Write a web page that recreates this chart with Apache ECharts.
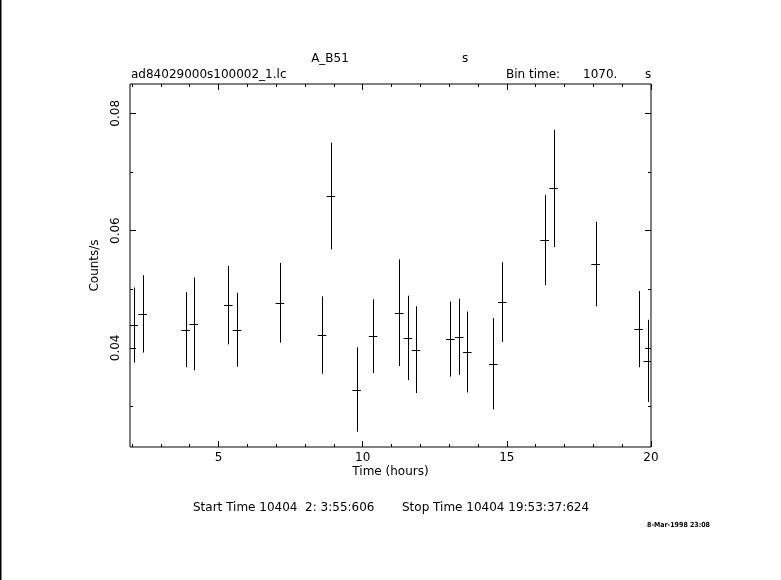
<!DOCTYPE html>
<html>
<head>
<meta charset="utf-8">
<script src="https://cdn.jsdelivr.net/npm/echarts@6/dist/echarts.min.js"></script>
<style>
html,body{margin:0;padding:0;background:#fff;}
#chart{width:781px;height:580px;}
</style>
</head>
<body>
<div id="chart"></div>
<script>
// ---- data ----
const binTime = 1070; // seconds
const times = [2.06, 2.37, 3.86, 4.14, 5.34, 5.64, 7.13, 8.59, 8.90, 9.79, 10.36, 11.27, 11.57, 11.85, 13.04, 13.35, 13.63, 14.53, 14.84, 16.31, 16.62, 18.08, 19.57, 19.89];
const rates = [0.0439, 0.0458, 0.0431, 0.0441, 0.0473, 0.0431, 0.0477, 0.0422, 0.0659, 0.0329, 0.0420, 0.0460, 0.0417, 0.0397, 0.0415, 0.0419, 0.0393, 0.0373, 0.0478, 0.0584, 0.0672, 0.0543, 0.0432, 0.0378];
const errors = [0.0064, 0.0066, 0.0064, 0.0079, 0.0067, 0.0063, 0.0068, 0.0066, 0.0091, 0.0072, 0.0063, 0.0091, 0.0072, 0.0074, 0.0064, 0.0065, 0.0069, 0.0078, 0.0068, 0.0077, 0.0100, 0.0072, 0.0065, 0.0070];

const xMajorTicks = [5, 10, 15, 20];
const xMinorTicks = [2, 3, 4, 6, 7, 8, 9, 11, 12, 13, 14, 16, 17, 18, 19];
const yMajorTicks = [0.04, 0.06, 0.08];
const yMinorTicks = [0.03, 0.05, 0.07];
const xRange = [1.93, 20.0];
const yRange = [0.0231, 0.085];

const titleText = 'A_B51';
const titleUnit = 's';
const fileName = 'ad84029000s100002_1.lc';
const binLabel = 'Bin time:';
const binValue = '1070.';
const binUnit = 's';
const xName = 'Time (hours)';
const yName = 'Counts/s';
const startText = 'Start Time 10404  2: 3:55:606';
const stopText = 'Stop Time 10404 19:53:37:624';
const dateText = '8-Mar-1998 23:08';

// ---- build ----
const FONT = 'DejaVu Sans';
const FS = 12;
const halfBin = binTime / 3600 / 2;
const seriesData = times.map((t, i) => [t, rates[i], errors[i]]);

function xAx(pos, ticks, len, showLabel, labels) {
  return {
    type: 'value', position: pos, min: xRange[0], max: xRange[1],
    gridIndex: 0,
    axisLine: {show: false},
    splitLine: {show: false},
    axisTick: {show: true, inside: true, length: len, customValues: ticks,
      lineStyle: {color: '#000', width: 1}},
    axisLabel: showLabel ? {show: true, customValues: labels, margin: 5,
      color: '#000', fontFamily: FONT, fontSize: FS,
      formatter: v => String(Math.round(v))} : {show: false}
  };
}
function yAx(pos, ticks, len, showLabel, labels) {
  return {
    type: 'value', position: pos, min: yRange[0], max: yRange[1],
    gridIndex: 0,
    axisLine: {show: false},
    splitLine: {show: false},
    axisTick: {show: true, inside: true, length: len, customValues: ticks,
      lineStyle: {color: '#000', width: 1}},
    axisLabel: showLabel ? {show: true, customValues: labels, margin: 8, rotate: 90,
      color: '#000', fontFamily: FONT, fontSize: FS,
      formatter: v => v.toFixed(2)} : {show: false}
  };
}

const chart = echarts.init(document.getElementById('chart'), null, {renderer: 'canvas'});

function txt(x, y, text, opts) {
  return Object.assign({
    type: 'text', x: x, y: y, silent: true,
    style: Object.assign({text: text, fill: '#000', font: FS + 'px "' + FONT + '"',
      textAlign: 'left', textVerticalAlign: 'middle'}, (opts && opts.style) || {})
  }, opts ? {rotation: opts.rotation || 0} : {});
}

chart.setOption({
  backgroundColor: '#fff',
  animation: false,
  grid: {left: 130, top: 84, width: 521, height: 363, show: true,
    borderColor: '#000', borderWidth: 1, backgroundColor: 'transparent'},
  xAxis: [
    xAx('bottom', xMajorTicks, 6, true, xMajorTicks),
    xAx('bottom', xMinorTicks, 3, false),
    xAx('top', xMajorTicks, 6, false),
    xAx('top', xMinorTicks, 3, false)
  ],
  yAxis: [
    yAx('left', yMajorTicks, 6, true, yMajorTicks),
    yAx('left', yMinorTicks, 3, false),
    yAx('right', yMajorTicks, 6, false),
    yAx('right', yMinorTicks, 3, false)
  ],
  series: [{
    type: 'custom',
    xAxisIndex: 0, yAxisIndex: 0,
    clip: true,
    data: seriesData,
    encode: {x: 0, y: 1},
    renderItem: function (params, api) {
      const t = api.value(0), v = api.value(1), e = api.value(2);
      const c = api.coord([t, v]);
      const top = api.coord([t, v + e]);
      const bot = api.coord([t, v - e]);
      const l = api.coord([t - halfBin, v]);
      const r = api.coord([t + halfBin, v]);
      const cx = Math.round(c[0]) + 0.5;
      const cy = Math.round(c[1]) + 0.5;
      const st = {stroke: '#000', lineWidth: 1};
      return {
        type: 'group',
        children: [
          {type: 'line', shape: {x1: cx, y1: top[1], x2: cx, y2: bot[1]}, style: st},
          {type: 'line', shape: {x1: l[0], y1: cy, x2: r[0], y2: cy}, style: st}
        ]
      };
    }
  }],
  graphic: [
    {type: 'rect', shape: {x: 0, y: 0, width: 1.5, height: 580}, style: {fill: '#000'}, silent: true},
    txt(330, 59, titleText, {style: {textAlign: 'center'}}),
    txt(462, 59, titleUnit),
    txt(131, 75, fileName),
    txt(506, 75, binLabel),
    txt(583, 75, binValue),
    txt(645, 75, binUnit),
    txt(390.5, 472, xName, {style: {textAlign: 'center'}}),
    txt(95, 265.5, yName, {rotation: Math.PI / 2, style: {textAlign: 'center'}}),
    txt(193, 508, startText),
    txt(402, 508, stopText),
    txt(647, 525, dateText, {style: {font: 'bold 7px "DejaVu Sans Condensed"'}})
  ]
});
</script>
</body>
</html>
